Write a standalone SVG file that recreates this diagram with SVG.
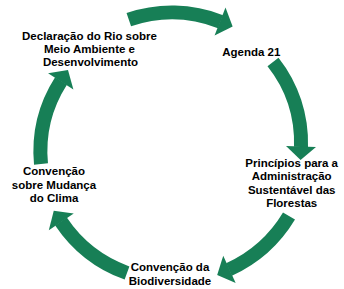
<svg xmlns="http://www.w3.org/2000/svg" width="344" height="289" viewBox="0 0 344 289">
  <style>
    .arc { fill: none; stroke: #177F56; stroke-width: 14; stroke-linecap: butt; marker-end: url(#head); }
    .lbl { font-family: "Liberation Sans", Arial, sans-serif; font-weight: bold; font-size: 11.5px; fill: #000; text-anchor: middle; }
  </style>
  <defs>
    <marker id="head" markerUnits="userSpaceOnUse" orient="auto" refX="0" refY="0" markerWidth="40" markerHeight="40" viewBox="-1 -20 40 40" overflow="visible">
      <path d="M-0.5,-15 L13,0 L-0.5,15 Z" fill="#177F56"/>
    </marker>
  </defs>
  <rect width="344" height="289" fill="#fff"/>
  <g id="connectors">
    <path class="arc" d="M128.8,19.7 A133.5,133.5 0 0 1 220.5,21.7"/>
    <path class="arc" d="M273,62 A130.5,130.5 0 0 1 301,147"/>
    <path class="arc" d="M289,216 A135.5,135.5 0 0 1 229,269.5"/>
    <path class="arc" d="M127,273 A134,134 0 0 1 61,221.5"/>
    <path class="arc" d="M41,164 A131,131 0 0 1 61,81"/>
  </g>
  <g id="node-declaracao">
    <text class="lbl" x="89.5" y="40">Declaração do Rio sobre</text>
    <text class="lbl" x="89.5" y="53">Meio Ambiente e</text>
    <text class="lbl" x="90.5" y="66">Desenvolvimento</text>
  </g>
  <g id="node-agenda">
    <text class="lbl" x="251.3" y="56">Agenda 21</text>
  </g>
  <g id="node-principios">
    <text class="lbl" x="291.7" y="166.5">Princípios para a</text>
    <text class="lbl" x="291.7" y="180">Administração</text>
    <text class="lbl" x="291.7" y="193.5">Sustentável das</text>
    <text class="lbl" x="291.7" y="207">Florestas</text>
  </g>
  <g id="node-biodiversidade">
    <text class="lbl" x="170" y="271">Convenção da</text>
    <text class="lbl" x="170" y="284.5">Biodiversidade</text>
  </g>
  <g id="node-clima">
    <text class="lbl" x="54" y="175">Convenção</text>
    <text class="lbl" x="54" y="188.5">sobre Mudança</text>
    <text class="lbl" x="54" y="202">do Clima</text>
  </g>
</svg>
